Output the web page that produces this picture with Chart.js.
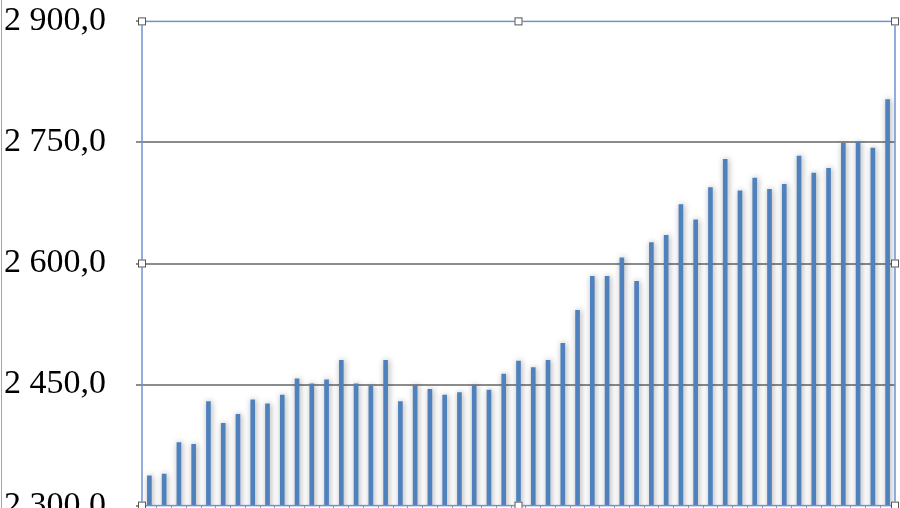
<!DOCTYPE html>
<html>
<head>
<meta charset="utf-8">
<script src="https://cdn.jsdelivr.net/npm/chart.js@4"></script>
<style>
    html, body { margin: 0; padding: 0; background: #fff; overflow: hidden; }
    #wrap { position: relative; width: 900px; height: 508px; overflow: hidden; }
    #edge { position: absolute; left: 1px; top: 0; width: 1px; height: 508px; background: #a6a6a6; }
    canvas { position: absolute; left: 0; top: -29px; }
</style>
</head>
<body>
<div id="wrap">
    <canvas id="chart" width="900" height="585"></canvas>
    <div id="edge"></div>
</div>
<script>
// --- Data ---
const categories = ['1', '2', '3', '4', '5', '6', '7', '8', '9', '10',
    '11', '12', '13', '14', '15', '16', '17', '18', '19', '20',
    '21', '22', '23', '24', '25', '26', '27', '28', '29', '30',
    '31', '32', '33', '34', '35', '36', '37', '38', '39', '40',
    '41', '42', '43', '44', '45', '46', '47', '48', '49', '50', '51'];

const values = [2337, 2339, 2378, 2376, 2429, 2402, 2413, 2431, 2426, 2437,
    2457, 2451, 2456, 2480, 2451, 2448, 2480, 2429, 2449, 2444,
    2437, 2440, 2449, 2443, 2463, 2479, 2471, 2480, 2501, 2542,
    2584, 2584, 2607, 2578, 2626, 2635, 2673, 2654, 2694, 2729,
    2690, 2706, 2692, 2698, 2733, 2712, 2718, 2749, 2750, 2743, 2803];

const yMin = 2300;
const yMax = 2900;
const yStep = 150;

// --- Helper functions ---
function formatTick(value) {
    const parts = Number(value).toFixed(1).split('.');
    const whole = parts[0].replace(/\B(?=(\d{3})+(?!\d))/g, ' ');
    return whole + ',' + parts[1];
}

// soft shadow behind the bars
const barShadow = {
    id: 'barShadow',
    beforeDatasetsDraw(chart) {
        const ctx = chart.ctx;
        ctx.save();
        ctx.shadowColor = 'rgba(0, 0, 0, 0.35)';
        ctx.shadowBlur = 6;
        ctx.shadowOffsetX = 1;
        ctx.shadowOffsetY = 0;
    },
    afterDatasetsDraw(chart) {
        chart.ctx.restore();
    }
};

// selection frame and handles round the plot area
const plotFrame = {
    id: 'plotFrame',
    afterDraw(chart) {
        const ctx = chart.ctx;
        const a = chart.chartArea;
        ctx.save();
        ctx.strokeStyle = '#6f91cf';
        ctx.lineWidth = 1.5;
        ctx.strokeRect(a.left, a.top, a.right - a.left, a.bottom - a.top);
        const midX = (a.left + a.right) / 2;
        const midY = (a.top + a.bottom) / 2;
        const pts = [[a.left, a.top], [midX, a.top], [a.right, a.top],
            [a.left, midY], [a.right, midY],
            [a.left, a.bottom], [midX, a.bottom], [a.right, a.bottom]];
        ctx.fillStyle = '#fff';
        ctx.strokeStyle = '#555';
        ctx.lineWidth = 1;
        pts.forEach(p => {
            ctx.fillRect(p[0] - 4, p[1] - 4, 8, 8);
            ctx.strokeRect(p[0] - 3.5, p[1] - 3.5, 7, 7);
        });
        ctx.restore();
    }
};

// --- Chart ---
const ctx = document.getElementById('chart').getContext('2d');
window.chart = new Chart(ctx, {
    type: 'bar',
    data: {
        labels: categories,
        datasets: [{
            data: values,
            backgroundColor: '#4f81bd',
            borderWidth: 0,
            barThickness: 4
        }]
    },
    options: {
        responsive: false,
        animation: false,
        devicePixelRatio: 1,
        layout: { padding: { top: 20, right: 5, bottom: 25, left: 0 } },
        plugins: {
            legend: { display: false },
            tooltip: { enabled: false }
        },
        scales: {
            x: {
                offset: true,
                border: { display: false },
                grid: {
                    drawOnChartArea: false,
                    tickLength: 4,
                    tickColor: '#9a9a9a'
                },
                ticks: { display: false },
                afterFit: function(scale) { scale.height = 10; }
            },
            y: {
                min: yMin,
                max: yMax,
                border: { display: false },
                grid: {
                    color: function(c) {
                        const v = c.tick && c.tick.value;
                        return (v === yMin || v === yMax) ? 'rgba(0,0,0,0)' : '#8c8c8c';
                    },
                    lineWidth: 2,
                    tickLength: 6,
                    tickColor: '#8c8c8c',
                    tickWidth: 2
                },
                ticks: {
                    stepSize: yStep,
                    padding: 30,
                    color: '#000',
                    font: { family: '"Liberation Serif", serif', size: 34 },
                    callback: function(value) { return formatTick(value); }
                },
                afterFit: function(scale) { scale.width = 142; }
            }
        }
    },
    plugins: [barShadow, plotFrame]
});
</script>
</body>
</html>
